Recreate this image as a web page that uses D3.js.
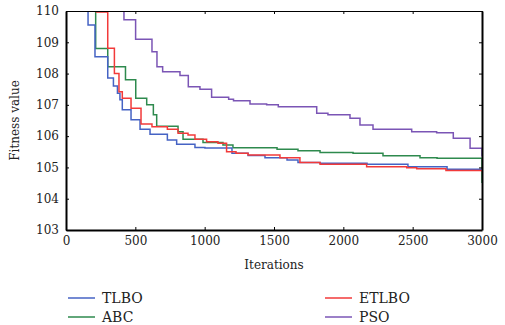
<!DOCTYPE html>
<html>
<head>
<meta charset="utf-8">
<script src="https://cdn.jsdelivr.net/npm/d3@7"></script>
<style>
	body { margin: 0; background: #fff; }
	svg { display: block; }
	.axis text { font-family: "DejaVu Serif", serif; font-size: 12px; fill: #222; }
	.label { font-family: "DejaVu Serif", serif; font-size: 12px; fill: #222; }
	.legend text { font-family: "DejaVu Serif", serif; font-size: 14px; fill: #222; }
</style>
</head>
<body>
<div id="chart"></div>
<script>
	// iteration breakpoints and fitness values (step curves)
	var tlboIter = [0, 159, 209, 301, 342, 371, 389, 406, 469, 534, 606, 731, 798, 930, 1002, 1197, 1313, 1435, 1594, 1673, 1832, 2171, 2466, 2748, 3000],
		tlboVal = [112, 109.55, 108.54, 107.86, 107.6, 107.37, 107.16, 106.84, 106.52, 106.22, 106.06, 105.88, 105.74, 105.64, 105.62, 105.45, 105.38, 105.31, 105.24, 105.16, 105.13, 105.1, 105.02, 104.94, 104.93];

	var abcIter = [0, 214, 301, 429, 503, 582, 630, 654, 808, 844, 988, 1132, 1204, 1522, 1673, 1832, 2070, 2286, 2553, 2676, 2999, 3000],
		abcVal = [112, 108.8, 108.22, 107.8, 107.21, 107.0, 106.68, 106.32, 106.14, 105.9, 105.8, 105.72, 105.63, 105.58, 105.53, 105.48, 105.45, 105.37, 105.31, 105.29, 105.29, 104.5];

	var etlboIter = [0, 220, 301, 349, 382, 406, 469, 541, 620, 731, 808, 880, 930, 1014, 1096, 1158, 1226, 1313, 1543, 1687, 1832, 2168, 2457, 2529, 2740, 3000],
		etlboVal = [112, 109.97, 108.81, 108.0, 107.42, 107.21, 106.89, 106.39, 106.3, 106.22, 106.09, 106.04, 105.9, 105.82, 105.77, 105.5, 105.45, 105.4, 105.31, 105.16, 105.1, 105.02, 104.99, 104.96, 104.9, 104.86];

	var psoIter = [0, 418, 502, 620, 656, 697, 822, 882, 966, 1050, 1173, 1208, 1327, 1447, 1531, 1808, 1889, 2048, 2120, 2214, 2493, 2673, 2793, 2914, 2999, 3000],
		psoVal = [112, 109.72, 109.1, 108.7, 108.22, 108.06, 107.94, 107.58, 107.5, 107.24, 107.18, 107.13, 107.03, 107.0, 106.94, 106.73, 106.68, 106.57, 106.36, 106.22, 106.14, 106.11, 105.93, 105.61, 105.61, 105.35];

	var xTicks = [0, 500, 1000, 1500, 2000, 2500, 3000],
		yTicks = [103, 104, 105, 106, 107, 108, 109, 110];

	var series = [
		{ name: "TLBO", iter: tlboIter, val: tlboVal, color: "#4563c4" },
		{ name: "ABC", iter: abcIter, val: abcVal, color: "#2e8a4e" },
		{ name: "ETLBO", iter: etlboIter, val: etlboVal, color: "#f23a3a" },
		{ name: "PSO", iter: psoIter, val: psoVal, color: "#7b55b5" }
	];

	var chartWidth = 505,
		chartHeight = 325,
		margin = { top: 11, right: 23, bottom: 95, left: 66 },
		width = chartWidth - margin.left - margin.right,
		height = chartHeight - margin.top - margin.bottom;

	var x = d3.scaleLinear().domain([0, 3000]).range([0, width]),
		y = d3.scaleLinear().domain([103, 110]).range([height, 0]);

	var svg = d3.select("#chart").append("svg")
		.attr("width", chartWidth)
		.attr("height", chartHeight);

	var g = svg.append("g")
		.attr("transform", "translate(" + margin.left + "," + margin.top + ")");

	g.append("clipPath").attr("id", "plotclip")
		.append("rect").attr("x", 0).attr("y", 0).attr("width", width).attr("height", height);

	var line = d3.line()
		.curve(d3.curveStepAfter)
		.x(function(d) { return x(d[0]); })
		.y(function(d) { return y(d[1]); });

	// draw in order so red sits over blue like the original
	var drawOrder = [3, 1, 0, 2];
	drawOrder.forEach(function(i) {
		var s = series[i];
		var pts = s.iter.map(function(it, j) { return [it, s.val[j]]; });
		g.append("path")
			.attr("clip-path", "url(#plotclip)")
			.attr("d", line(pts))
			.attr("fill", "none")
			.attr("stroke", s.color)
			.attr("stroke-width", 1.5);
	});

	// axes, ticks point inward
	g.append("g")
		.attr("class", "axis")
		.attr("transform", "translate(0," + height + ")")
		.call(d3.axisBottom(x).tickValues(xTicks).tickFormat(d3.format("d")).tickSize(-3).tickSizeOuter(0).tickPadding(6))
		.call(function(a) { a.select(".domain").attr("stroke-width", 2); });

	g.append("g")
		.attr("class", "axis")
		.call(d3.axisLeft(y).tickValues(yTicks).tickFormat(d3.format("d")).tickSize(-3).tickSizeOuter(0).tickPadding(7))
		.call(function(a) { a.select(".domain").attr("stroke-width", 2); });

	g.append("g")
		.attr("class", "axis")
		.call(d3.axisTop(x).tickValues(xTicks).tickSize(-3).tickSizeOuter(0).tickFormat(""))
		.call(function(a) { a.select(".domain").attr("stroke-width", 1); });

	g.append("g")
		.attr("class", "axis")
		.attr("transform", "translate(" + width + ",0)")
		.call(d3.axisRight(y).tickValues(yTicks).tickSize(-3).tickSizeOuter(0).tickFormat(""))
		.call(function(a) { a.select(".domain").attr("stroke-width", 2); });

	g.append("text")
		.attr("class", "label")
		.attr("x", width / 2)
		.attr("y", height + 39)
		.attr("text-anchor", "middle")
		.text("Iterations");

	g.append("text")
		.attr("class", "label")
		.attr("transform", "translate(" + (-47) + "," + (height / 2) + ") rotate(-90)")
		.attr("text-anchor", "middle")
		.text("Fitness value");

	// legend
	var legendPos = [[68, 298], [68, 317], [325, 298], [325, 317]];
	var legend = svg.append("g").attr("class", "legend");
	series.forEach(function(s, i) {
		var p = legendPos[i];
		legend.append("line")
			.attr("x1", p[0]).attr("x2", p[0] + 27)
			.attr("y1", p[1]).attr("y2", p[1])
			.attr("stroke", s.color)
			.attr("stroke-opacity", 0.75)
			.attr("stroke-width", 2);
		legend.append("text")
			.attr("x", p[0] + 34)
			.attr("y", p[1] + 5)
			.text(s.name);
	});
</script>
</body>
</html>
